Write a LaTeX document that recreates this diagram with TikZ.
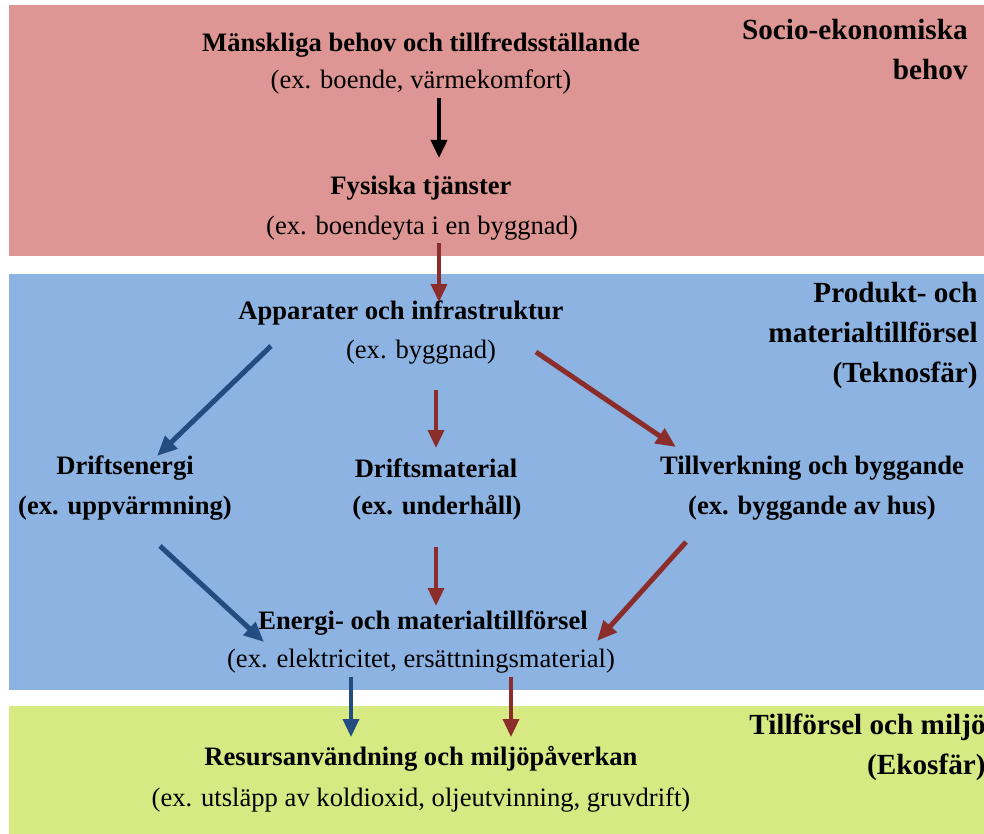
\documentclass[tikz,border=0pt]{standalone}
\usepackage{fontspec}
\setmainfont{Liberation Serif}
\usetikzlibrary{arrows.meta}
\definecolor{bandred}{HTML}{DD9694}
\definecolor{bandblue}{HTML}{8DB3E2}
\definecolor{bandgreen}{HTML}{D7E982}
\definecolor{arrred}{HTML}{8B2E2B}
\definecolor{arrblue}{HTML}{234D80}
\begin{document}
\begin{tikzpicture}[x=0.5pt,y=-0.5pt,
  txt/.style={inner sep=0pt, font=\fontsize{13.3}{20}\selectfont},
  btxt/.style={inner sep=0pt, font=\fontsize{13.3}{20}\selectfont\bfseries},
  sidelab/.style={inner sep=0pt, align=right, anchor=east, font=\fontsize{14.6}{20}\selectfont\bfseries},
  thinarr/.style={line width=1.8pt, -{Triangle[length=9pt,width=8pt]}},
  thickarr/.style={line width=2.5pt, -{Triangle[length=10pt,width=8.5pt]}}
]
\useasboundingbox (0,0) rectangle (984,834);
% bands
\fill[bandred] (9,5) rectangle (990,256);
\fill[bandblue] (9,274) rectangle (990,690);
\fill[bandgreen] (9,706) rectangle (990,840);

% side labels
\node[sidelab] (s1) at (968,50) {Socio-ekonomiska\\behov};
\node[sidelab] (s2) at (978,335) {Produkt- och\\materialtillförsel\\(Teknosfär)};
\node[sidelab] (s3) at (986,747) {Tillförsel och miljö\\(Ekosfär)};

% main texts
\node[btxt] (n1) at (421,45) {Mänskliga behov och tillfredsställande};
\node[txt]  (n1e) at (421,82) {(ex. boende, värmekomfort)};
\node[btxt] (n2) at (421,188) {Fysiska tjänster};
\node[txt]  (n2e) at (422,228) {(ex. boendeyta i en byggnad)};
\node[btxt] (n3) at (401,313) {Apparater och infrastruktur};
\node[txt]  (n3e) at (421,352) {(ex. byggnad)};
\node[btxt] (n4) at (125,468) {Driftsenergi};
\node[btxt] (n4e) at (125,508) {(ex. uppvärmning)};
\node[btxt] (n5) at (436,468) {Driftsmaterial};
\node[btxt] (n5e) at (437,508) {(ex. underhåll)};
\node[btxt] (n6) at (812,468) {Tillverkning och byggande};
\node[btxt] (n6e) at (812,508) {(ex. byggande av hus)};
\node[btxt] (n7) at (423,623) {Energi- och materialtillförsel};
\node[txt]  (n7e) at (421,661) {(ex. elektricitet, ersättningsmaterial)};
\node[btxt] (n8) at (421,759) {Resursanvändning och miljöpåverkan};
\node[txt]  (n8e) at (421,800) {(ex. utsläpp av koldioxid, oljeutvinning, gruvdrift)};

% arrow endpoints
\coordinate (k1s) at (439,98);  \coordinate (k1e) at (439,158);
\coordinate (r1s) at (439,243); \coordinate (r1e) at (439,302);
\coordinate (b1s) at (271,346); \coordinate (b1e) at (157,456);
\coordinate (r2s) at (436,390); \coordinate (r2e) at (436,448);
\coordinate (r3s) at (536,352); \coordinate (r3e) at (676,447);
\coordinate (b2s) at (160,546); \coordinate (b2e) at (264,642);
\coordinate (r4s) at (436,547); \coordinate (r4e) at (436,606);
\coordinate (r5s) at (686,542); \coordinate (r5e) at (597,641);
\coordinate (b3s) at (351,677); \coordinate (b3e) at (351,737);
\coordinate (r6s) at (511,677); \coordinate (r6e) at (511,737);

% arrows
\draw[thinarr, black] (k1s) -- (k1e);
\draw[thinarr, arrred] (r1s) -- (r1e);
\draw[thickarr, arrblue] (b1s) -- (b1e);
\draw[thinarr, arrred] (r2s) -- (r2e);
\draw[thickarr, arrred] (r3s) -- (r3e);
\draw[thickarr, arrblue] (b2s) -- (b2e);
\draw[thinarr, arrred] (r4s) -- (r4e);
\draw[thickarr, arrred] (r5s) -- (r5e);
\draw[thinarr, arrblue] (b3s) -- (b3e);
\draw[thinarr, arrred] (r6s) -- (r6e);
\end{tikzpicture}
\end{document}
